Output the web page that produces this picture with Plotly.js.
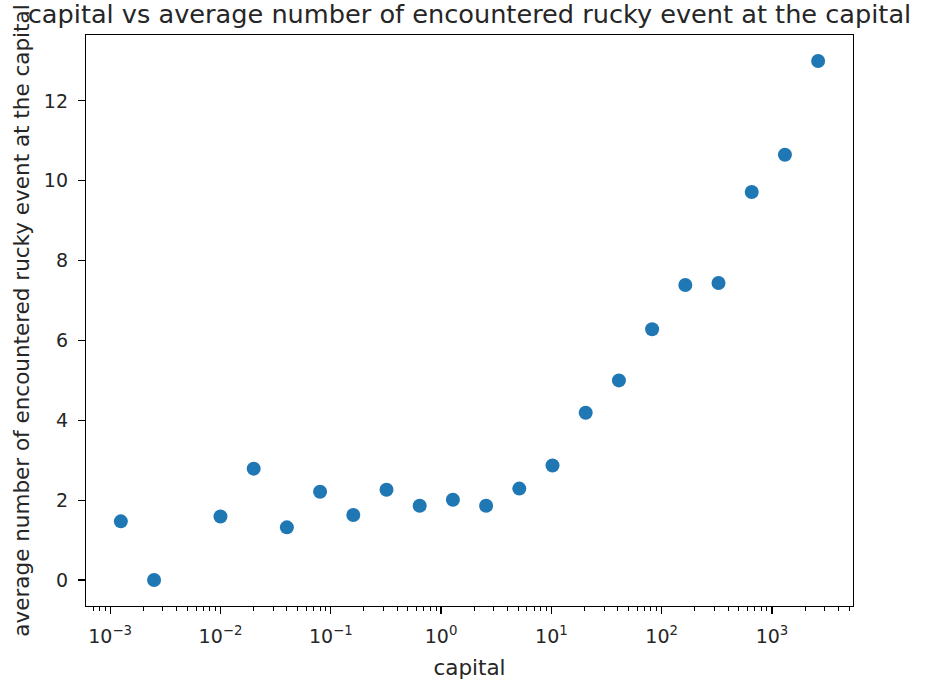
<!DOCTYPE html>
<html>
<head>
<meta charset="utf-8">
<script src="https://cdn.plot.ly/plotly-3.0.1.min.js"></script>
<style>html,body{margin:0;padding:0;background:#fff;}#chart{width:930px;height:692px;}</style>
</head>
<body>
<div id="chart"></div>
<script>
const capital = [0.00125, 0.0025, 0.01, 0.02, 0.04, 0.08, 0.16, 0.32, 0.64, 1.28, 2.56, 5.12, 10.24, 20.48, 40.96, 81.92, 163.84, 327.68, 655.36, 1310.72, 2621.44];
const avgEvents = [1.47, 0.0, 1.59, 2.79, 1.32, 2.21, 1.63, 2.26, 1.86, 2.01, 1.86, 2.29, 2.87, 4.19, 5.0, 6.28, 7.39, 7.44, 9.72, 10.65, 13.0];
const xTickVals = [0.001, 0.01, 0.1, 1, 10, 100, 1000];
const xTickText = ['10<sup>\u22123</sup>', '10<sup>\u22122</sup>', '10<sup>\u22121</sup>', '10<sup>0</sup>', '10<sup>1</sup>', '10<sup>2</sup>', '10<sup>3</sup>'];
const yTicks = [0, 2, 4, 6, 8, 10, 12];

const lx = capital.map(Math.log10);
const xmin = Math.min(...lx), xmax = Math.max(...lx);
const ymin = Math.min(...avgEvents), ymax = Math.max(...avgEvents);
const mx = 0.05 * (xmax - xmin), my = 0.05 * (ymax - ymin);

const fam = 'DejaVu Sans, sans-serif';
const txt = '#262626';

Plotly.newPlot('chart', [{
  x: capital, y: avgEvents, type: 'scatter', mode: 'markers',
  marker: {color: '#1f77b4', size: 14, line: {width: 0}}
}], {
  width: 930, height: 692,
  margin: {l: 86, r: 77, t: 35, b: 86},
  paper_bgcolor: '#fff', plot_bgcolor: '#fff',
  showlegend: false,
  font: {family: fam, size: 19, color: txt},
  title: {text: 'capital vs average number of encountered rucky event at the capital',
    font: {family: fam, size: 25.6, color: txt}, x: 0.5, xref: 'paper', xanchor: 'center',
    y: 1 - 14/692, yref: 'container', yanchor: 'middle'},
  xaxis: {
    type: 'log', range: [xmin - mx, xmax + mx],
    showgrid: false, zeroline: false, showline: true, linecolor: '#000', linewidth: 1.2, mirror: true,
    ticks: 'outside', ticklen: 7, tickwidth: 1.2, tickcolor: '#000',
    tickvals: xTickVals, ticktext: xTickText, tickfont: {family: fam, size: 19, color: txt},
    ticklabelstandoff: 6,
    minor: {ticks: 'outside', ticklen: 4, tickwidth: 1, tickcolor: '#000', dtick: 'D1', showgrid: false},
    title: {text: 'capital', font: {family: fam, size: 21.5, color: txt}, standoff: 14}
  },
  yaxis: {
    range: [ymin - my, ymax + my],
    showgrid: false, zeroline: false, showline: true, linecolor: '#000', linewidth: 1.2, mirror: true,
    ticks: 'outside', ticklen: 7, tickwidth: 1.2, tickcolor: '#000',
    tickvals: yTicks, ticktext: yTicks.map(String), tickfont: {family: fam, size: 19, color: txt},
    ticklabelstandoff: 6,
    title: {text: 'average number of encountered rucky event at the capital', font: {family: fam, size: 21.5, color: txt}, standoff: 8}
  }
}, {displayModeBar: false, staticPlot: true});
</script>
</body>
</html>
